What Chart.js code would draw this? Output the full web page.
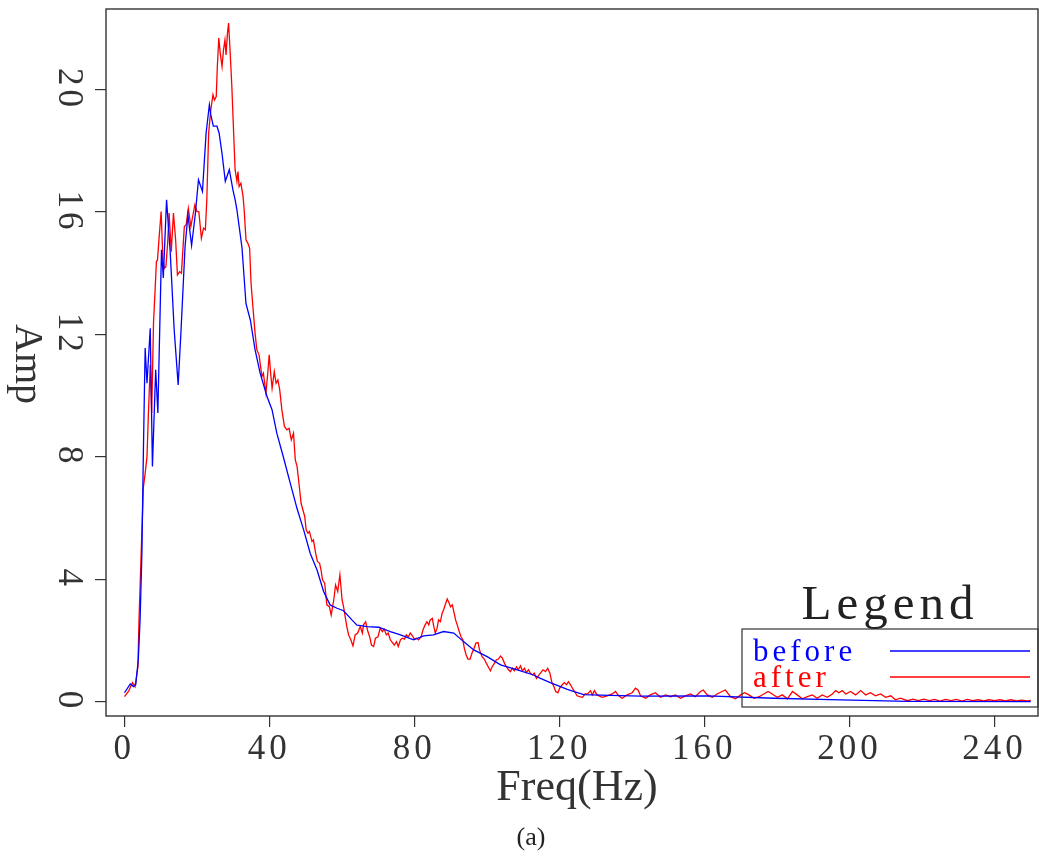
<!DOCTYPE html>
<html><head><meta charset="utf-8">
<script src="https://cdn.jsdelivr.net/npm/chart.js@4/dist/chart.umd.min.js"></script>
<style>html,body{margin:0;padding:0;background:#fff;}#wrap{width:1039px;height:856px;position:relative;}</style>
</head><body><div id="wrap"><canvas id="c" width="1039" height="856"></canvas></div>
<script>
// ---- data ----
const beforeFreq = [0.1,1.7,2.6,3.2,3.9,4.4,4.9,5.3,5.6,5.8,6.3,7.2,7.8,8.7,9.3,10.3,10.8,11.7,12.7,13.8,14.9,15.7,16.8,17.6,18.6,19.6,20.5,21.6,22.6,23.5,23.9,24.6,25.6,26.2,27.0,27.9,29.0,30.0,30.6,31.1,32.5,33.6,34.8,36.1,37.5,39.4,40.8,42.1,44.0,45.8,47.7,49.5,51.3,53.2,55.0,56.8,58.7,60.5,62.8,64.2,67.0,70.2,73.4,76.2,79.8,82.6,85.3,88.1,90.9,93.6,96.4,100.1,103.8,108.4,112.9,114.8,117.5,120.3,122.2,126.7,131.3,142.4,160.8,179.2,197.6,216.0,250.0];
const beforeAmp  = [0.29,0.58,0.49,0.55,1.36,2.67,4.86,8.1,10.2,11.55,10.4,12.2,7.68,10.84,9.43,14.76,13.84,16.4,14.7,12.15,10.35,12.15,14.87,15.9,14.9,15.9,17.05,16.67,18.57,19.5,19.17,18.8,18.8,18.57,17.9,17.0,17.38,16.72,16.4,16.07,14.83,13.0,12.47,11.5,10.73,9.97,9.53,8.77,7.95,7.14,6.3,5.61,4.85,4.3,3.6,3.16,3.05,2.97,2.67,2.5,2.45,2.43,2.29,2.18,2.02,2.15,2.18,2.29,2.24,1.96,1.69,1.47,1.2,1.04,0.87,0.76,0.62,0.49,0.4,0.23,0.21,0.18,0.19,0.11,0.06,0.01,0.0];

const afterFreq = [0.1,1.2,2.3,3.0,3.8,4.1,4.7,5.3,5.8,6.3,6.7,7.2,7.6,8.1,8.6,8.9,9.2,9.7,10.2,10.7,11.1,11.5,12.0,12.4,13.0,13.6,14.2,14.7,15.3,15.8,16.6,17.1,17.7,18.4,18.9,19.5,20.1,20.6,21.3,21.9,22.4,22.8,23.3,23.9,24.5,24.9,25.4,25.7,26.1,26.5,27.0,27.4,27.8,28.1,28.5,28.8,29.2,29.7,30.2,30.6,31.1,31.4,31.7,32.2,32.8,33.1,33.6,34.1,34.6,35.0,35.5,36.1,36.6,37.2,37.5,38.0,38.4,39.1,39.6,40.0,40.4,40.8,41.4,41.9,42.4,42.9,43.5,44.2,44.9,45.5,46.1,46.7,47.2,47.7,48.3,48.8,49.3,49.8,50.2,50.7,51.1,51.8,52.2,52.8,53.3,53.9,54.3,54.7,55.3,55.9,56.6,57.1,57.8,58.3,58.9,59.5,60.1,60.5,61.4,61.9,62.5,63.1,63.7,64.4,65.1,65.7,66.0,66.6,67.1,67.7,68.2,68.8,69.3,70.0,70.6,71.2,71.7,72.3,72.8,73.4,74.0,74.5,75.1,75.6,76.2,76.7,77.3,77.8,78.4,78.9,79.5,80.0,80.6,81.2,81.9,82.4,83.0,83.5,84.0,84.4,85.0,85.3,85.8,86.3,86.7,87.2,87.7,88.1,88.7,89.1,89.6,90.0,90.5,91.0,91.4,92.0,92.4,92.9,93.4,93.8,94.3,94.8,95.4,95.9,96.4,97.0,97.6,98.0,98.7,99.3,99.9,100.4,101.0,101.5,102.1,102.6,103.2,103.8,104.3,104.9,105.4,106.0,106.5,107.1,107.6,108.2,108.7,109.3,109.8,110.4,110.9,111.5,112.0,112.6,113.1,113.7,114.2,114.8,115.5,116.2,116.8,117.4,117.9,118.5,119.0,119.6,120.1,120.8,121.4,122.0,122.5,123.1,123.6,124.2,124.9,125.6,126.4,127.1,127.8,128.6,129.1,129.7,130.4,131.8,133.2,134.6,135.5,136.4,137.3,138.7,140.1,141.0,141.7,142.4,143.8,145.1,146.5,147.9,149.3,150.7,152.0,153.4,154.8,156.2,157.5,158.9,159.7,160.8,162.2,163.5,164.9,165.8,167.2,168.6,170.0,171.1,172.3,173.7,175.1,176.4,177.6,178.7,180.1,181.5,182.9,184.3,185.6,187.0,188.4,189.8,191.1,192.5,193.9,195.3,196.2,197.1,198.0,199.0,200.3,201.7,203.1,204.5,205.8,207.2,208.6,210.0,211.4,212.7,214.1,216.0,217.5,219.0,220.5,222.0,223.5,225.0,226.5,228.0,229.5,231.0,232.5,234.0,235.5,237.0,238.5,240.0,241.5,243.0,244.5,246.0,247.5,249.0,250.0];
const afterAmp  = [0.16,0.33,0.62,0.49,1.14,2.67,4.85,7.0,7.46,8.0,9.43,11.0,9.43,12.37,13.6,14.38,14.43,15.25,16.01,14.43,14.16,14.2,14.98,15.96,14.7,15.96,15.09,13.94,14.05,14.0,15.52,15.58,16.12,15.52,15.85,16.23,16.01,16.01,15.14,15.47,15.42,16.4,18.57,19.34,19.83,19.66,19.77,20.75,21.68,21.19,20.75,21.3,21.62,21.13,21.84,22.17,21.3,20.1,18.57,17.38,17.0,17.32,16.83,16.94,16.5,16.07,15.09,14.98,14.82,13.67,12.91,12.04,11.49,11.33,11.06,10.62,10.73,10.08,10.73,11.33,10.73,10.24,10.78,10.4,10.51,10.19,9.53,8.99,8.88,8.93,8.55,8.77,7.9,7.68,7.03,6.48,6.26,6.05,5.61,5.5,5.56,5.23,5.28,4.85,4.58,4.52,4.3,3.98,3.87,3.16,3.1,2.83,3.32,3.81,3.6,4.14,3.32,3.1,2.45,2.18,2.02,1.82,2.18,2.24,2.45,2.24,2.51,2.61,2.34,2.12,1.85,1.8,2.07,2.12,2.4,2.29,2.37,2.18,2.24,2.02,1.93,1.85,1.96,1.8,2.02,2.07,2.04,2.18,2.12,2.24,2.15,2.04,2.07,2.02,2.12,2.34,2.51,2.61,2.51,2.67,2.72,2.51,2.24,2.4,2.67,2.61,2.89,3.0,3.22,3.35,3.22,3.1,3.16,2.89,2.67,2.45,2.29,2.12,2.02,1.75,1.53,1.39,1.39,1.58,1.71,1.91,1.93,1.69,1.47,1.39,1.25,1.14,1.01,1.14,1.25,1.36,1.39,1.49,1.42,1.25,1.14,1.04,0.98,1.09,1.01,1.14,1.04,1.17,1.01,1.09,0.95,1.04,0.93,0.87,0.93,0.76,0.84,0.93,1.04,0.98,1.09,0.93,0.65,0.49,0.33,0.29,0.44,0.55,0.62,0.55,0.65,0.55,0.44,0.33,0.19,0.16,0.14,0.25,0.25,0.36,0.22,0.36,0.22,0.14,0.19,0.25,0.33,0.19,0.11,0.22,0.29,0.44,0.38,0.19,0.11,0.22,0.29,0.14,0.22,0.16,0.22,0.11,0.19,0.25,0.16,0.33,0.38,0.22,0.14,0.25,0.33,0.38,0.16,0.09,0.22,0.29,0.22,0.11,0.16,0.25,0.33,0.25,0.14,0.22,0.09,0.33,0.22,0.09,0.16,0.22,0.11,0.22,0.14,0.25,0.36,0.29,0.36,0.25,0.33,0.22,0.36,0.22,0.29,0.19,0.25,0.14,0.19,0.06,0.11,0.03,0.08,0.03,0.08,0.03,0.07,0.02,0.07,0.03,0.07,0.02,0.07,0.03,0.06,0.02,0.06,0.03,0.06,0.02,0.06,0.02,0.05,0.02,0.04];

const xTicks = [0,40,80,120,160,200,240];
const yTicks = [0,4,8,12,16,20];
const seriesNames = ['before','after'];
const seriesColors = ['#0000ff','#ff0000'];
const xTitle = 'Freq(Hz)';
const yTitle = 'Amp';
const legendTitle = 'Legend';
const caption = '(a)';

// ---- chart ----
const SERIF = "'Liberation Serif', 'Times New Roman', serif";
const INK = '#222';
const toPts = (xs, ys) => xs.map((x, i) => ({x, y: ys[i]}));

function drawText(ctx, text, x, y, o) {
  ctx.save();
  ctx.font = o.font;
  ctx.fillStyle = o.color || INK;
  ctx.textAlign = o.align || 'left';
  ctx.textBaseline = o.baseline || 'alphabetic';
  try { ctx.letterSpacing = (o.spacing || 0) + 'px'; } catch (e) {}
  ctx.translate(x, y);
  if (o.rotate) ctx.rotate(o.rotate);
  ctx.fillText(text, 0, 0);
  ctx.restore();
}

const decor = {
  id: 'decor',
  beforeDraw(chart) {
    try { chart.ctx.letterSpacing = '4px'; } catch (e) {}
  },
  afterDatasetsDraw(chart) {
    const ctx = chart.ctx;
    const a = chart.chartArea;
    ctx.save();
    try { ctx.letterSpacing = '0px'; } catch (e) {}
    ctx.strokeStyle = '#333';
    ctx.lineWidth = 1.4;
    ctx.strokeRect(a.left, a.top, a.right - a.left, a.bottom - a.top);
    // legend box
    const bx = 742, by = 629, bw = 296, bh = 78;
    ctx.lineWidth = 1.2;
    ctx.strokeRect(bx, by, bw, bh);
    ctx.restore();
    drawText(ctx, legendTitle, 890, 619, {font: '49px ' + SERIF, align: 'center', spacing: 5, color: '#222'});
    const ds = chart.data.datasets;
    const rows = [661, 687];
    const lineY = [651, 677];
    ds.forEach((d, i) => {
      drawText(ctx, d.label, 753, rows[i], {font: '31px ' + SERIF, color: d.borderColor, spacing: 4});
      ctx.save();
      ctx.strokeStyle = d.borderColor;
      ctx.lineWidth = 1.3;
      ctx.beginPath();
      ctx.moveTo(890, lineY[i]);
      ctx.lineTo(1030, lineY[i]);
      ctx.stroke();
      ctx.restore();
    });
  },
  afterDraw(chart) {
    const ctx = chart.ctx;
    const a = chart.chartArea;
    drawText(ctx, xTitle, (a.left + a.right) / 2 + 5, 800, {font: '44px ' + SERIF, align: 'center', spacing: 0, color: '#333'});
    drawText(ctx, yTitle, 16, 364, {font: '40px ' + SERIF, align: 'center', baseline: 'alphabetic', rotate: Math.PI / 2, color: '#333'});
    drawText(ctx, caption, 531, 845, {font: '26px ' + SERIF, align: 'center'});
  }
};

new Chart(document.getElementById('c'), {
  type: 'line',
  data: {
    datasets: [
      {label: seriesNames[0], data: toPts(beforeFreq, beforeAmp), borderColor: seriesColors[0], borderWidth: 1.3, pointRadius: 0, tension: 0, fill: false},
      {label: seriesNames[1], data: toPts(afterFreq, afterAmp), borderColor: seriesColors[1], borderWidth: 1.3, pointRadius: 0, tension: 0, fill: false}
    ]
  },
  options: {
    responsive: false,
    animation: false,
    devicePixelRatio: 1,
    layout: {padding: {top: 9, right: 1, left: 0, bottom: 0}},
    plugins: {legend: {display: false}, tooltip: {enabled: false}, title: {display: false}},
    scales: {
      x: {
        type: 'linear', min: -5, max: 252,
        afterBuildTicks: s => { s.ticks = xTicks.map(v => ({value: v})); },
        afterFit: s => { s.height = 140; s.paddingLeft = 0; s.paddingRight = 0; },
        border: {display: false},
        grid: {display: true, drawOnChartArea: false, drawTicks: true, tickLength: 11, color: '#333', lineWidth: 1.2},
        ticks: {font: {family: SERIF, size: 35}, color: '#333', padding: 2, maxRotation: 0, minRotation: 0}
      },
      y: {
        type: 'linear', min: -0.47, max: 22.63,
        afterBuildTicks: s => { s.ticks = yTicks.map(v => ({value: v})); },
        afterFit: s => { s.width = 106; s.paddingTop = 0; s.paddingBottom = 0; },
        border: {display: false},
        grid: {display: true, drawOnChartArea: false, drawTicks: true, tickLength: 11, color: '#333', lineWidth: 1.2},
        ticks: {font: {family: SERIF, size: 35}, color: '#333', padding: 9, minRotation: -90, maxRotation: -90, crossAlign: 'center'}
      }
    }
  },
  plugins: [decor]
});
</script>
</body></html>
